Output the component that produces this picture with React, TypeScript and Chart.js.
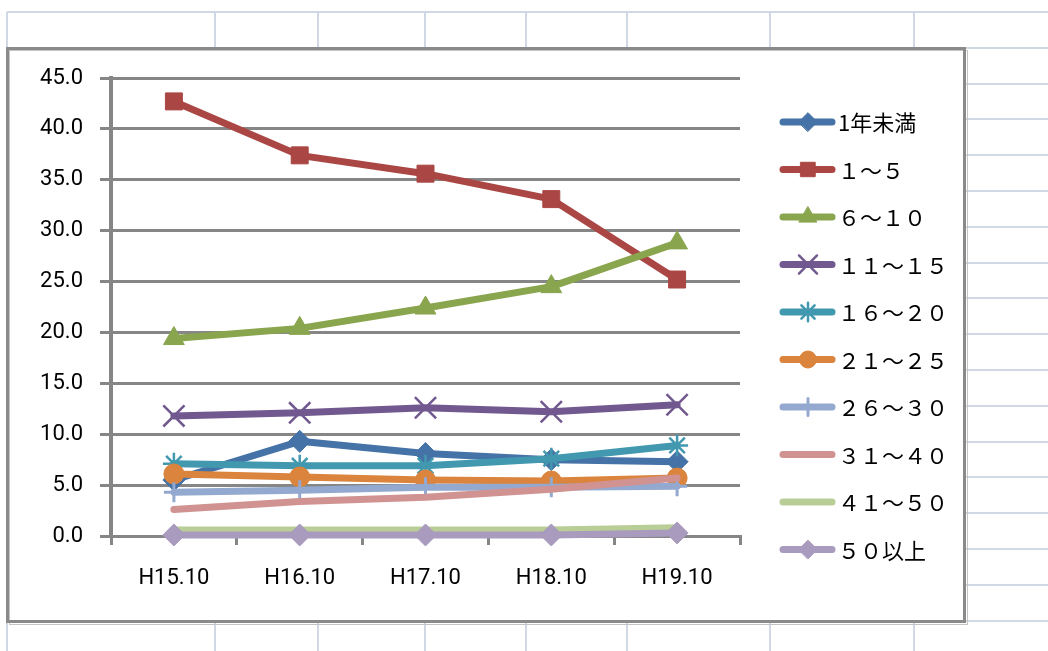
import React, { useEffect, useRef } from 'react';
import { Chart, registerables } from 'chart.js';
import { drawPoint } from 'chart.js/helpers';

Chart.register(...registerables);

// ---- data ----
const categories = ['H15.10', 'H16.10', 'H17.10', 'H18.10', 'H19.10'];
const seriesLabels = [
  '1年未満',
  '１～５',
  '６～１０',
  '１１～１５',
  '１６～２０',
  '２１～２５',
  '２６～３０',
  '３１～４０',
  '４１～５０',
  '５０以上',
];
const lessThan1 = [5.5, 9.3, 8.1, 7.5, 7.3];
const y1to5 = [42.7, 37.4, 35.6, 33.1, 25.2];
const y6to10 = [19.4, 20.4, 22.4, 24.5, 28.8];
const y11to15 = [11.8, 12.1, 12.6, 12.2, 12.9];
const y16to20 = [7.1, 6.9, 6.9, 7.6, 8.9];
const y21to25 = [6.1, 5.8, 5.5, 5.4, 5.7];
const y26to30 = [4.3, 4.5, 4.8, 4.8, 4.9];
const y31to40 = [2.6, 3.4, 3.8, 4.6, 5.7];
const y41to50 = [0.6, 0.6, 0.6, 0.6, 0.8];
const over50 = [0.1, 0.1, 0.1, 0.1, 0.3];
const seriesValues = [lessThan1, y1to5, y6to10, y11to15, y16to20, y21to25, y26to30, y31to40, y41to50, over50];

const yMin = 0;
const yMax = 45;
const yStep = 5;

// ---- styles ----
const colors = ['#4572A7', '#AA4643', '#89A54E', '#71588F', '#4198AF', '#DB843D', '#93A9CF', '#D19392', '#B9CD96', '#A99BBD'];
const pointStyles: any[] = ['rectRot', 'rect', 'triangle', 'crossRot', 'star', 'circle', 'cross', 'circle', 'circle', 'rectRot'];
const pointRadii = [11, 12, 12, 15, 11, 10, 10, 0, 0, 11];
const pointBorders = [1, 1, 1, 2.5, 2.5, 1, 3, 0, 0, 1];

const W = 1048;
const H = 651;
const gridColor = '#868686';
const tickFont = { family: 'Roboto', size: 22 };

const sheetPlugin = {
  id: 'sheet',
  beforeDraw(chart: any) {
    const ctx = chart.ctx as CanvasRenderingContext2D;
    ctx.save();
    ctx.fillStyle = '#ffffff';
    ctx.fillRect(0, 0, W, H);
    ctx.strokeStyle = '#D0D7E5';
    ctx.lineWidth = 2;
    for (let y = 12; y < H; y += 35.8) {
      ctx.beginPath();
      ctx.moveTo(7, Math.round(y));
      ctx.lineTo(W, Math.round(y));
      ctx.stroke();
    }
    const cols = [7, 215, 318, 425, 526, 627, 770, 914];
    for (const x of cols) {
      ctx.beginPath();
      ctx.moveTo(x, 12);
      ctx.lineTo(x, H);
      ctx.stroke();
    }
    // chart frame
    ctx.fillStyle = '#ffffff';
    ctx.fillRect(7, 48, 958, 574);
    ctx.strokeStyle = '#c4c4c4';
    ctx.lineWidth = 1;
    ctx.strokeRect(9.5, 50.5, 958, 574);
    ctx.strokeStyle = '#8a8a8a';
    ctx.lineWidth = 3;
    ctx.strokeRect(7.5, 48.5, 957, 573);
    ctx.restore();
  },
};

const legendPlugin = {
  id: 'customLegend',
  afterDraw(chart: any) {
    const ctx = chart.ctx as CanvasRenderingContext2D;
    chart.data.datasets.forEach((ds: any, i: number) => {
      const y = 122 + i * 47.5;
      ctx.save();
      ctx.strokeStyle = ds.borderColor;
      ctx.lineWidth = 7;
      ctx.lineCap = 'round';
      ctx.beginPath();
      ctx.moveTo(783, y);
      ctx.lineTo(832, y);
      ctx.stroke();
      if (ds.pointRadius > 0) {
        ctx.fillStyle = ds.pointBackgroundColor;
        ctx.strokeStyle = ds.pointBorderColor;
        ctx.lineWidth = ds.pointBorderWidth;
        drawPoint(ctx, { pointStyle: ds.pointStyle, radius: ds.pointRadius * 0.85, borderWidth: ds.pointBorderWidth, rotation: 0 } as any, 808, y);
      }
      ctx.fillStyle = '#000000';
      ctx.font = '22px "Noto Sans CJK JP"';
      ctx.textBaseline = 'middle';
      ctx.textAlign = 'left';
      ctx.fillText(ds.label, 838, y + 1);
      ctx.restore();
    });
  },
};

export default function App() {
  const ref = useRef<HTMLCanvasElement>(null);
  useEffect(() => {
    document.body.style.margin = '0';
    const datasets = seriesValues.map((vals, i) => ({
      label: seriesLabels[i],
      data: vals,
      borderColor: colors[i],
      backgroundColor: colors[i],
      borderWidth: 7,
      borderCapStyle: 'round' as const,
      borderJoinStyle: 'round' as const,
      tension: 0,
      fill: false,
      clip: false as any,
      pointStyle: pointStyles[i],
      pointRadius: pointRadii[i],
      pointHoverRadius: pointRadii[i],
      pointBackgroundColor: colors[i],
      pointBorderColor: colors[i],
      pointBorderWidth: pointBorders[i],
      order: seriesValues.length - i,
    }));
    const chart = new Chart(ref.current!, {
      type: 'line',
      data: { labels: categories, datasets },
      options: {
        responsive: false,
        animation: false,
        events: [],
        layout: { padding: { top: 78, right: W - 740, left: 0, bottom: 0 } },
        plugins: { legend: { display: false }, tooltip: { enabled: false } },
        scales: {
          x: {
            type: 'category',
            offset: true,
            grid: { offset: true, drawOnChartArea: false, drawTicks: true, tickLength: 9, color: gridColor, lineWidth: 3 },
            border: { display: true, color: gridColor, width: 3 },
            ticks: { color: '#000', font: tickFont, padding: 20, maxRotation: 0, autoSkip: false },
            afterFit: (s: any) => {
              s.height = H - 536;
            },
          },
          y: {
            min: yMin,
            max: yMax,
            ticks: {
              stepSize: yStep,
              color: '#000',
              font: tickFont,
              padding: 17,
              callback: (v: any) => Number(v).toFixed(1),
            },
            grid: { color: gridColor, lineWidth: 3, tickLength: 11 },
            border: { display: true, color: gridColor, width: 4 },
            afterFit: (s: any) => {
              s.width = 111;
            },
          },
        },
      },
      plugins: [sheetPlugin, legendPlugin],
    });
    return () => chart.destroy();
  }, []);
  return (
    <div style={{ position: 'fixed', left: 0, top: 0, width: W, height: H, background: '#fff' }}>
      <canvas ref={ref} width={W} height={H} style={{ width: W, height: H, display: 'block' }} />
    </div>
  );
}
